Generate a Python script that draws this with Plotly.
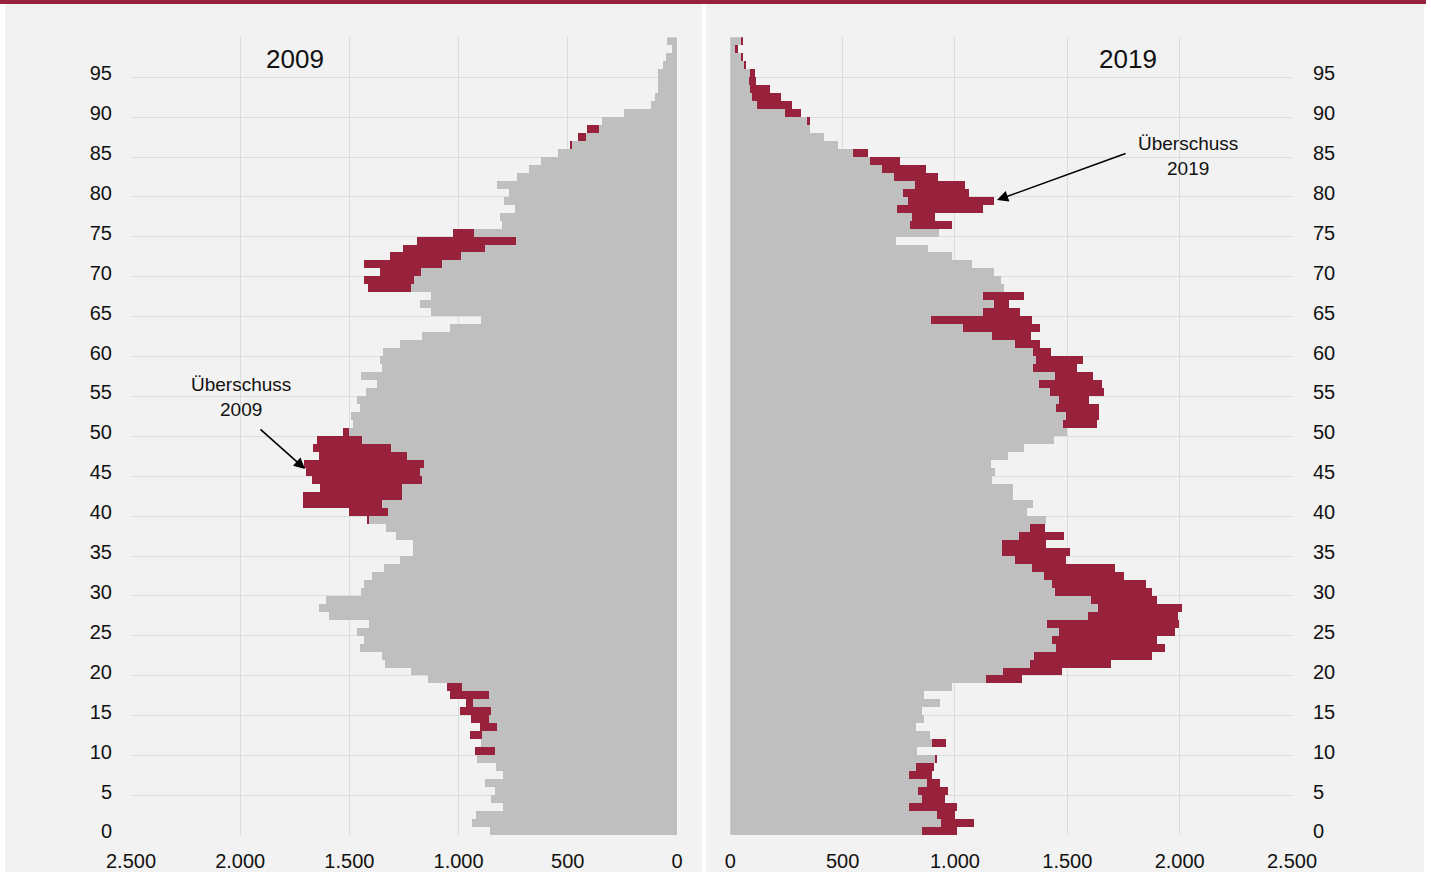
import numpy as np
import plotly.graph_objects as go

# ---------------- data ----------------
ages = list(range(100))
pop_2009 = [
    856, 940, 920, 798, 853, 835, 879, 798, 827, 914,        # 0-9
    924, 899, 948, 904, 942, 995, 965, 1040, 1052, 1138,     # 10-19
    1217, 1336, 1351, 1452, 1431, 1466, 1410, 1593, 1639, 1605,  # 20-29
    1445, 1435, 1397, 1342, 1270, 1210, 1210, 1286, 1333, 1419,  # 30-39
    1500, 1714, 1714, 1634, 1673, 1699, 1706, 1641, 1665, 1650,  # 40-49
    1531, 1483, 1494, 1453, 1463, 1424, 1375, 1447, 1350, 1360,  # 50-59
    1348, 1270, 1166, 1038, 896, 1127, 1176, 1127, 1413, 1434,   # 60-69
    1358, 1434, 1312, 1254, 1190, 1027, 802, 812, 743, 793,      # 70-79
    768, 823, 731, 677, 622, 547, 491, 454, 411, 343,            # 80-89
    244, 120, 100, 89, 86, 87, 62, 52, 21, 47,                   # 90-99
]
pop_2019 = [
    1012, 1088, 1000, 1012, 955, 970, 936, 898, 908, 921,      # 0-9
    833, 961, 892, 826, 862, 853, 935, 863, 986, 1299,         # 10-19
    1478, 1694, 1880, 1934, 1900, 1982, 2000, 1993, 2011, 1900,  # 20-29
    1880, 1853, 1754, 1715, 1497, 1515, 1405, 1485, 1401, 1408,  # 30-39
    1321, 1350, 1258, 1258, 1168, 1178, 1160, 1237, 1309, 1443,  # 40-49
    1500, 1634, 1641, 1644, 1596, 1665, 1656, 1616, 1546, 1571,  # 50-59
    1427, 1378, 1338, 1380, 1343, 1291, 1240, 1307, 1218, 1204,  # 60-69
    1173, 1076, 989, 880, 737, 928, 990, 911, 1126, 1175,        # 70-79
    1062, 1047, 924, 871, 757, 614, 480, 418, 358, 356,          # 80-89
    315, 277, 226, 177, 114, 110, 73, 58, 36, 58,                # 90-99
]
x_ticks = [0, 500, 1000, 1500, 2000, 2500]
x_tick_labels = ["0", "500", "1.000", "1.500", "2.000", "2.500"]
y_tick_ages = list(range(0, 100, 5))
y_tick_labels = [str(a) for a in y_tick_ages]
panel_titles = ["2009", "2019"]
note_2009 = "Überschuss<br>2009"
note_2019 = "Überschuss<br>2019"

# ---------------- styling ----------------
GREY = "#BFBFBF"
RED = "#98213C"
BG = "#F2F2F2"
GRID = "#DCDCDC"
FONT = "Liberation Sans"
W, H = 1431, 872

p09 = np.array(pop_2009, dtype=float)
p19 = np.array(pop_2019, dtype=float)
common = np.minimum(p09, p19)
ex09 = p09 - common
ex19 = p19 - common
yc = np.array(ages) + 0.5

fig = go.Figure()
for xa, ya, ex in (("x", "y", ex09), ("x2", "y2", ex19)):
    fig.add_trace(go.Bar(y=yc, x=common, orientation="h", width=1.0,
                         marker=dict(color=GREY, line=dict(width=0)),
                         xaxis=xa, yaxis=ya, showlegend=False, hoverinfo="skip"))
    fig.add_trace(go.Bar(y=yc, x=ex, base=common, orientation="h", width=1.0,
                         marker=dict(color=RED, line=dict(width=0)),
                         xaxis=xa, yaxis=ya, showlegend=False, hoverinfo="skip"))

xl = [131 / W, 677 / W]
xr = [730.3 / W, 1292 / W]
yd = [1 - 835.4 / H, 1 - 37.3 / H]

tickfont = dict(family=FONT, size=20, color="#111111")

xcommon = dict(tickmode="array", tickvals=x_ticks, ticktext=x_tick_labels,
               showgrid=True, gridcolor=GRID, gridwidth=1, zeroline=False,
               showline=False, ticks="", tickfont=tickfont, ticklabelstandoff=12,
               automargin=False, fixedrange=True)
ycommon = dict(range=[0, 100], tickmode="array",
               tickvals=[a + 0.5 for a in y_tick_ages], ticktext=y_tick_labels,
               showgrid=False, zeroline=False, showline=False, ticks="",
               tickfont=tickfont, automargin=False,
               minor=dict(tickmode="array", tickvals=list(range(0, 101, 5)),
                          showgrid=True, gridcolor=GRID, gridwidth=1, ticks=""),
               fixedrange=True)

fig.update_layout(
    width=W, height=H, autosize=False,
    margin=dict(l=0, r=0, t=0, b=0, pad=0, autoexpand=False),
    paper_bgcolor="white", plot_bgcolor=BG,
    barmode="overlay", bargap=0,
    font=dict(family=FONT, color="#111111"),
    xaxis=dict(domain=xl, range=[2500, 0], anchor="y", **xcommon),
    yaxis=dict(domain=yd, anchor="x", side="left", ticklabelstandoff=18, **ycommon),
    xaxis2=dict(domain=xr, range=[0, 2500], anchor="y2", **xcommon),
    yaxis2=dict(domain=yd, anchor="x2", side="right", ticklabelstandoff=20, **ycommon),
    shapes=[
        dict(type="rect", xref="paper", yref="paper", x0=5 / W, x1=702 / W,
             y0=0, y1=1 - 4 / H, fillcolor=BG, line=dict(width=0), layer="below"),
        dict(type="rect", xref="paper", yref="paper", x0=706 / W, x1=1424 / W,
             y0=0, y1=1 - 4 / H, fillcolor=BG, line=dict(width=0), layer="below"),
        dict(type="rect", xref="paper", yref="paper", x0=0, x1=1426 / W,
             y0=1 - 4 / H, y1=1, fillcolor=RED, line=dict(width=0), layer="above"),
    ],
)

ann = []
# panel titles
ann.append(dict(x=1749, y=97.3, xref="x", yref="y", text=panel_titles[0], showarrow=False,
                font=dict(family=FONT, size=26, color="#111111")))
ann.append(dict(x=1770, y=97.3, xref="x2", yref="y2", text=panel_titles[1], showarrow=False,
                font=dict(family=FONT, size=26, color="#111111")))
# notes
ann.append(dict(x=1996, y=54.9, xref="x", yref="y", text=note_2009, showarrow=False,
                font=dict(family=FONT, size=19, color="#111111"), align="center"))
ann.append(dict(x=2037, y=85.1, xref="x2", yref="y2", text=note_2019, showarrow=False,
                font=dict(family=FONT, size=19, color="#111111"), align="center"))
# arrows
ann.append(dict(x=1703, y=45.9, xref="x", yref="y", ax=1914, ay=51.05, axref="x", ayref="y",
                text="", showarrow=True, arrowhead=2, arrowsize=1.4, arrowwidth=1.6,
                arrowcolor="#000000"))
ann.append(dict(x=1187, y=79.6, xref="x2", yref="y2", ax=1766, ay=85.5, axref="x2", ayref="y2",
                text="", showarrow=True, arrowhead=2, arrowsize=1.4, arrowwidth=1.6,
                arrowcolor="#000000"))
fig.update_layout(annotations=ann)

fig.write_html("out.html", config={"responsive": False, "displayModeBar": False},
               post_script="document.body.style.margin='0';document.body.style.overflow='hidden';")
